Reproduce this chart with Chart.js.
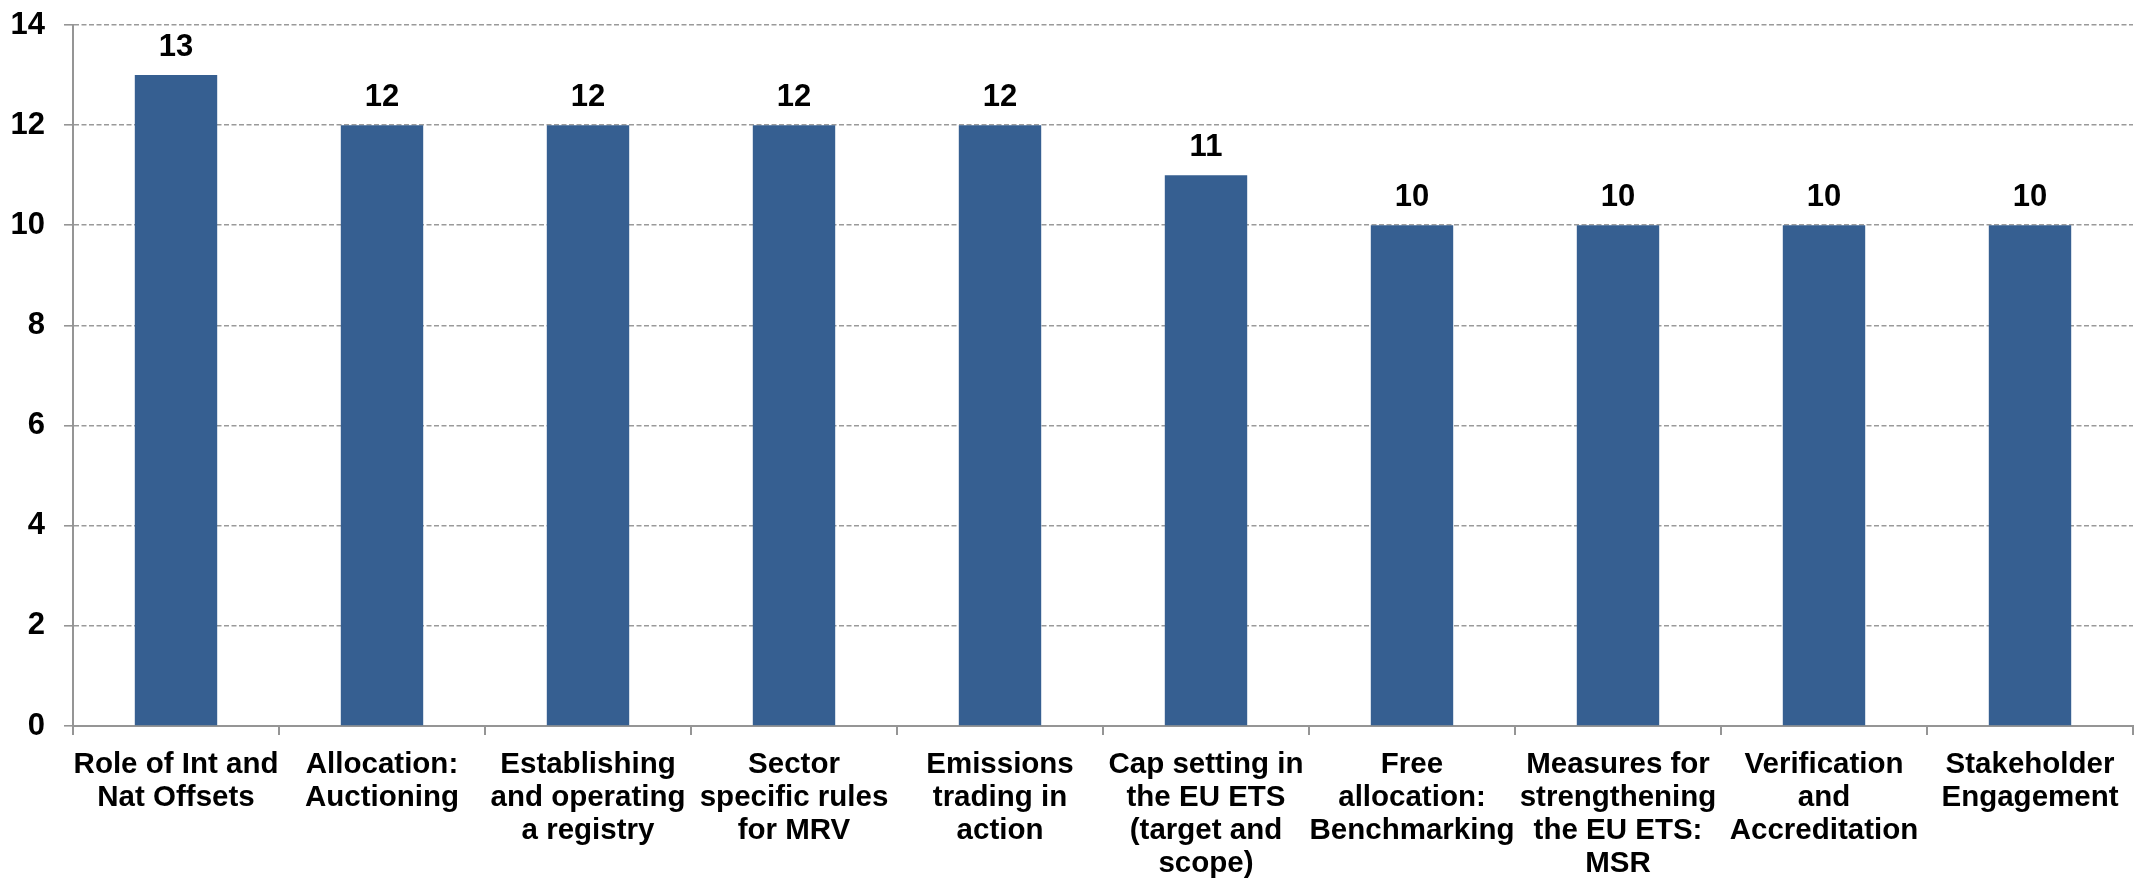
<!DOCTYPE html>
<html>
<head>
<meta charset="utf-8">
<style>
  html, body { margin: 0; padding: 0; background: #fff; }
  #wrap { width: 2140px; height: 878px; }
</style>
<script src="https://cdn.jsdelivr.net/npm/chart.js@4/dist/chart.umd.min.js"></script>
</head>
<body>
<div id="wrap"><canvas id="barChart" width="2140" height="878"></canvas></div>
<script>
// chart data
const categories = [
  ['Role of Int and', 'Nat Offsets'],
  ['Allocation:', 'Auctioning'],
  ['Establishing', 'and operating', 'a registry'],
  ['Sector', 'specific rules', 'for MRV'],
  ['Emissions', 'trading in', 'action'],
  ['Cap setting in', 'the EU ETS', '(target and', 'scope)'],
  ['Free', 'allocation:', 'Benchmarking'],
  ['Measures for', 'strengthening', 'the EU ETS:', 'MSR'],
  ['Verification', 'and', 'Accreditation'],
  ['Stakeholder', 'Engagement']
];
const counts = [13, 12, 12, 12, 12, 11, 10, 10, 10, 10];
const yTicks = [0, 2, 4, 6, 8, 10, 12, 14];

const FONT = "'Liberation Sans', Arial, sans-serif";
const AXIS_GRAY = '#959595';

// value labels above each bar
const barLabels = {
  id: 'barLabels',
  afterDatasetsDraw(chart) {
    const ctx = chart.ctx;
    const meta = chart.getDatasetMeta(0);
    ctx.save();
    ctx.font = 'bold 31px ' + FONT;
    ctx.fillStyle = '#000';
    ctx.textAlign = 'center';
    ctx.textBaseline = 'alphabetic';
    meta.data.forEach((bar, i) => {
      ctx.fillText(String(counts[i]), bar.x, bar.y - 19);
    });
    ctx.restore();
  }
};

document.addEventListener('DOMContentLoaded', function () {
  const ctx = document.getElementById('barChart');
  new Chart(ctx, {
    type: 'bar',
    data: {
      labels: categories,
      datasets: [{
        data: counts,
        backgroundColor: '#365F91',
        borderWidth: 0,
        barPercentage: 0.4,
        categoryPercentage: 1.0
      }]
    },
    options: {
      responsive: false,
      animation: false,
      devicePixelRatio: 1,
      layout: { padding: { top: 25, right: 7, left: 0, bottom: 0 } },
      plugins: {
        legend: { display: false },
        title: { display: false },
        tooltip: { enabled: false }
      },
      scales: {
        x: {
          grid: {
            offset: true,
            drawOnChartArea: false,
            tickLength: 9,
            tickColor: AXIS_GRAY,
            lineWidth: 2
          },
          border: { color: AXIS_GRAY, width: 2 },
          ticks: {
            color: '#000',
            padding: 13,
            maxRotation: 0,
            autoSkip: false,
            font: { family: FONT, size: 29.5, weight: 'bold', lineHeight: 33 / 29.5 }
          },
          afterFit(scale) { scale.height = 152; }
        },
        y: {
          min: 0,
          max: 14,
          afterBuildTicks(scale) { scale.ticks = yTicks.map(v => ({ value: v })); },
          grid: {
            color: '#9a9a9a',
            tickBorderDash: [],
            tickColor: AXIS_GRAY,
            tickLength: 9,
            lineWidth: 1.6
          },
          border: { color: AXIS_GRAY, width: 2, dash: [5, 2.5] },
          ticks: {
            color: '#000',
            padding: 19,
            font: { family: FONT, size: 31, weight: 'bold' }
          },
          afterFit(scale) {
            scale.width = 73;
            scale.paddingTop = 0;
            scale.paddingBottom = 0;
          }
        }
      }
    },
    plugins: [barLabels]
  });
});
</script>
</body>
</html>
